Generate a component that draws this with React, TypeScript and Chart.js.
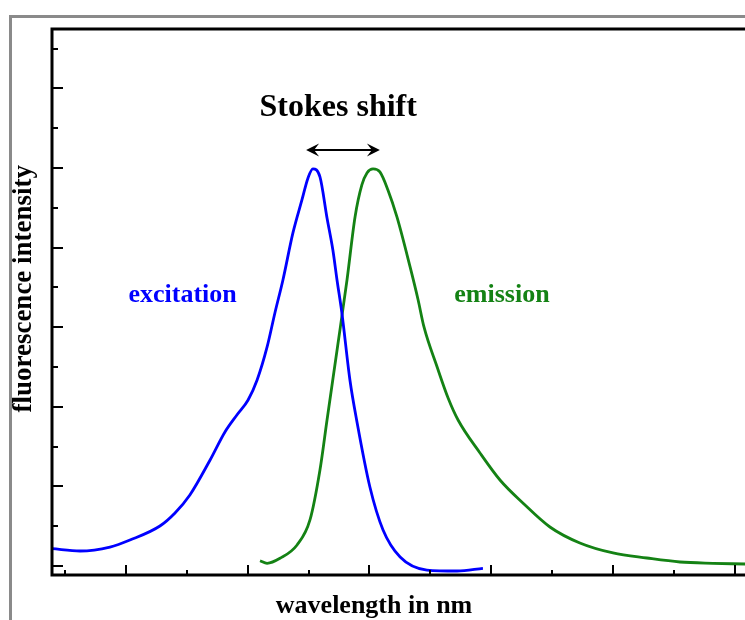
import React, { useEffect, useRef } from "react";
import { Chart, registerables } from "chart.js";

Chart.register(...registerables);

// Excitation spectrum (wavelength nm, relative intensity)
const excitationX = [319.7, 331.2, 343.5, 351.7, 364.0, 370.2, 376.3, 384.6, 390.7, 395.6, 400.2, 403.9, 408.0, 411.2, 414.5, 418.6, 422.3, 424.8, 426.8, 429.7, 432.6, 435.0, 436.7, 438.7, 442.0, 444.9, 450.2, 455.6, 462.6, 473.6, 486.0, 496.6];
const excitationY = [0.0435, 0.0377, 0.0477, 0.0653, 0.1005, 0.1332, 0.1784, 0.2663, 0.3367, 0.3794, 0.4171, 0.4673, 0.5503, 0.6357, 0.7186, 0.8367, 0.9196, 0.9749, 0.9975, 0.9774, 0.8744, 0.7940, 0.7186, 0.6357, 0.4673, 0.3618, 0.1985, 0.0905, 0.0226, -0.0101, -0.0126, -0.0058];

// Emission spectrum
const emissionX = [405.1, 408.0, 413.3, 420.3, 425.6, 429.7, 432.6, 436.9, 440.8, 444.1, 446.9, 449.0, 451.5, 454.3, 457.6, 461.3, 466.7, 470.0, 472.4, 477.8, 482.3, 486.4, 495.4, 503.6, 513.0, 524.1, 536.4, 550.0, 563.9, 577.5, 591.0, 604.2, 618.5];
const emissionY = [0.0133, 0.0068, 0.0193, 0.0528, 0.1156, 0.2412, 0.3668, 0.5503, 0.7186, 0.8769, 0.9573, 0.9874, 0.9975, 0.9899, 0.9447, 0.8769, 0.7513, 0.6683, 0.6005, 0.5000, 0.4221, 0.3668, 0.2839, 0.2161, 0.1583, 0.0980, 0.0578, 0.0327, 0.0201, 0.0101, 0.0068, 0.0050, 0.0025];

// Axis ranges and tick marks
const xMin = 319.7;
const xMax = 618.55;
const yMin = -0.0226;
const yMax = 1.349;
const xTickValues = [325, 350, 375, 400, 425, 450, 475, 500, 525, 550, 575, 600];
const xMajorTicks = [350, 400, 450, 500, 550, 600];
const yTickValues = [0, 0.1, 0.2, 0.3, 0.4, 0.5, 0.6, 0.7, 0.8, 0.9, 1.0, 1.1, 1.2, 1.3];
const yMajorTicks = [0, 0.2, 0.4, 0.6, 0.8, 1.0, 1.2];

// Texts
const titleText = "Stokes shift";
const excitationLabel = "excitation";
const emissionLabel = "emission";
const xAxisTitle = "wavelength in nm";
const yAxisTitle = "fluorescence intensity";

// Annotation anchors (data coordinates)
const stokesArrowX = [424.0, 454.3];
const stokesArrowY = 1.045;
const stokesTextPos = [437.2, 1.131];
const excitationLabelPos = [373.3, 0.663];
const emissionLabelPos = [504.4, 0.663];
const xTitlePos = [451.9];
const yTitlePos = [0.6965];

const BLUE = "rgb(0,0,255)";
const GREEN = "rgb(20,130,20)";
const SERIF = '"Liberation Serif", "DejaVu Serif", serif';

export default function App() {
  const canvasRef = useRef<HTMLCanvasElement | null>(null);

  useEffect(() => {
    const canvas = canvasRef.current;
    if (!canvas) return;

    const decorPlugin = {
      id: "decor",
      beforeDraw(chart: any) {
        const ctx = chart.ctx;
        ctx.save();
        ctx.fillStyle = "#ffffff";
        ctx.fillRect(0, 0, chart.width, chart.height);
        // outer gray frame
        ctx.strokeStyle = "#8a8a8a";
        ctx.lineWidth = 3;
        ctx.strokeRect(10.5, 16.5, chart.width + 50, chart.height + 50);
        ctx.restore();
      },
      afterDatasetsDraw(chart: any) {
        const ctx = chart.ctx;
        const { left, top, right, bottom } = chart.chartArea;
        const xs = chart.scales.x;
        const ys = chart.scales.y;
        ctx.save();
        // plot box
        ctx.strokeStyle = "#000";
        ctx.lineWidth = 3;
        ctx.strokeRect(left, top, right - left + 40, bottom - top);
        // inward ticks
        ctx.lineWidth = 2;
        ctx.beginPath();
        xTickValues.forEach((v) => {
          const px = Math.round(xs.getPixelForValue(v));
          const len = xMajorTicks.includes(v) ? 10 : 5;
          ctx.moveTo(px, bottom);
          ctx.lineTo(px, bottom - len);
        });
        yTickValues.forEach((v) => {
          const py = Math.round(ys.getPixelForValue(v));
          const len = yMajorTicks.some((m) => Math.abs(m - v) < 1e-6) ? 11 : 6;
          ctx.moveTo(left, py);
          ctx.lineTo(left + len, py);
        });
        ctx.stroke();

        // Stokes arrow
        const ax1 = xs.getPixelForValue(stokesArrowX[0]);
        const ax2 = xs.getPixelForValue(stokesArrowX[1]);
        const ay = ys.getPixelForValue(stokesArrowY);
        ctx.lineWidth = 2.2;
        ctx.beginPath();
        ctx.moveTo(ax1 + 6, ay);
        ctx.lineTo(ax2 - 6, ay);
        ctx.stroke();
        ctx.fillStyle = "#000";
        const head = (tipX: number, dir: number) => {
          ctx.beginPath();
          ctx.moveTo(tipX, ay);
          ctx.lineTo(tipX + dir * 13, ay - 6.5);
          ctx.lineTo(tipX + dir * 8, ay);
          ctx.lineTo(tipX + dir * 13, ay + 6.5);
          ctx.closePath();
          ctx.fill();
        };
        head(ax1, 1);
        head(ax2, -1);

        // texts
        ctx.textAlign = "center";
        ctx.textBaseline = "alphabetic";
        ctx.fillStyle = "#000";
        ctx.font = `bold 32px ${SERIF}`;
        ctx.fillText(titleText, xs.getPixelForValue(stokesTextPos[0]), ys.getPixelForValue(stokesTextPos[1]));

        ctx.font = `bold 26px ${SERIF}`;
        ctx.fillStyle = BLUE;
        ctx.fillText(excitationLabel, xs.getPixelForValue(excitationLabelPos[0]), ys.getPixelForValue(excitationLabelPos[1]));
        ctx.fillStyle = GREEN;
        ctx.fillText(emissionLabel, xs.getPixelForValue(emissionLabelPos[0]), ys.getPixelForValue(emissionLabelPos[1]));

        ctx.fillStyle = "#000";
        ctx.fillText(xAxisTitle, xs.getPixelForValue(xTitlePos[0]), bottom + 38);

        ctx.save();
        ctx.font = `bold 27px ${SERIF}`;
        ctx.translate(left - 21, ys.getPixelForValue(yTitlePos[0]));
        ctx.rotate(-Math.PI / 2);
        ctx.fillText(yAxisTitle, 0, 0);
        ctx.restore();

        ctx.restore();
      },
    };

    const chart = new Chart(canvas, {
      type: "line",
      data: {
        datasets: [
          {
            label: excitationLabel,
            data: excitationX.map((x, i) => ({ x, y: excitationY[i] })),
            borderColor: BLUE,
            borderWidth: 2.8,
            pointRadius: 0,
            cubicInterpolationMode: "monotone",
            fill: false,
          },
          {
            label: emissionLabel,
            data: emissionX.map((x, i) => ({ x, y: emissionY[i] })),
            borderColor: GREEN,
            borderWidth: 2.8,
            pointRadius: 0,
            cubicInterpolationMode: "monotone",
            fill: false,
          },
        ],
      },
      options: {
        animation: false,
        responsive: false,
        devicePixelRatio: 1,
        layout: { padding: { left: 52, top: 29, right: 20, bottom: 45 } },
        plugins: {
          legend: { display: false },
          title: { display: false },
          tooltip: { enabled: false },
        },
        events: [],
        scales: {
          x: { type: "linear", min: xMin, max: xMax, display: false },
          y: { type: "linear", min: yMin, max: yMax, display: false },
        },
      },
      plugins: [decorPlugin],
    } as any);

    return () => chart.destroy();
  }, []);

  return (
    <div style={{ position: "fixed", left: 0, top: 0, width: 745, height: 620, overflow: "hidden", background: "#fff" }}>
      <canvas ref={canvasRef} width={800} height={620} style={{ width: 800, height: 620, display: "block" }} />
    </div>
  );
}
